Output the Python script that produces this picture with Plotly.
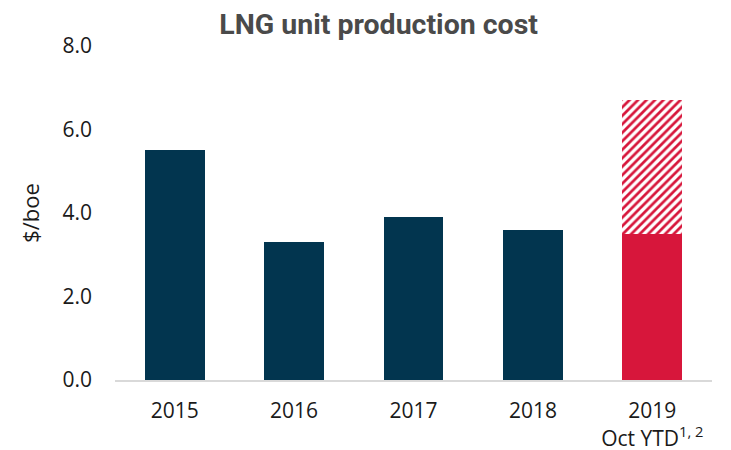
import plotly.graph_objects as go

# data
categories = ["2015", "2016", "2017", "2018", "2019<br>Oct YTD<sup>1, 2</sup>"]
cost_actual = [5.5, 3.3, 3.9, 3.6, 3.5]
cost_hatched = [None, None, None, None, 3.2]

navy = "#02354f"
red = "#d7163b"
bar_colors = [navy, navy, navy, navy, red]

fig = go.Figure()

fig.add_trace(go.Bar(
    x=categories,
    y=cost_actual,
    marker=dict(color=bar_colors, line=dict(width=0)),
    width=0.5,
    showlegend=False,
))

# hatched part of the 2019 bar
fig.add_trace(go.Bar(
    x=categories,
    y=cost_hatched,
    marker=dict(
        color="white",
        line=dict(width=0),
        pattern=dict(shape="/", fgcolor=red, bgcolor="white",
                     size=6, solidity=0.45, fillmode="replace"),
    ),
    width=0.5,
    showlegend=False,
))

# the page body has an 8px margin, so the margins are shifted to match
fig.update_layout(
    barmode="stack",
    width=731,
    height=450,
    margin=dict(l=107, r=27, t=38, b=78),
    paper_bgcolor="white",
    plot_bgcolor="white",
    font=dict(family="Open Sans", size=21, color="#1a1a1a"),
    title=dict(
        text="<b>LNG unit production cost</b>",
        x=0.507, xanchor="center",
        y=0.986, yanchor="top",
        font=dict(family="Roboto", size=28.5, color="#4a4a4a"),
    ),
)

fig.update_xaxes(
    range=[-0.5, 4.5],
    automargin=False,
    showline=True,
    linecolor="#d9d9d9",
    linewidth=2,
    showgrid=False,
    ticks="",
    ticklabelstandoff=11,
    tickfont=dict(size=21),
)

fig.update_yaxes(
    range=[0, 8],
    automargin=False,
    tickvals=[0, 2, 4, 6, 8],
    tickformat=".1f",
    showgrid=False,
    zeroline=False,
    showline=False,
    ticks="",
    ticklabelstandoff=22,
    title=dict(text="$/boe", font=dict(size=22), standoff=16),
    tickfont=dict(size=21),
)

fig.write_html("out.html")
